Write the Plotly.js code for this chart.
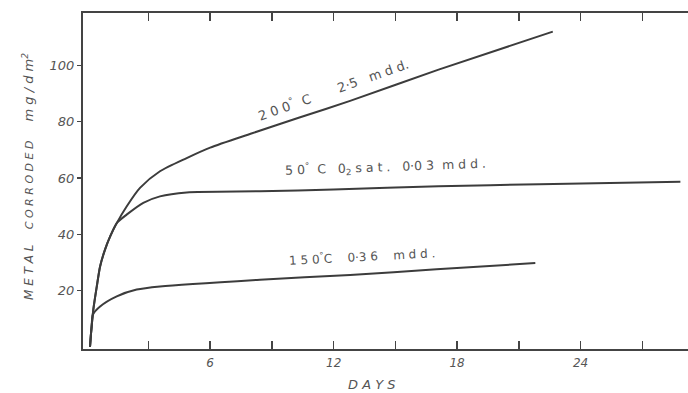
<!DOCTYPE html>
<html>
<head>
<meta charset="utf-8">
<script src="https://cdn.plot.ly/plotly-3.0.1.min.js"></script>
<style>
html,body{margin:0;padding:0;background:#fff;}
#chart{width:688px;height:393px;}
</style>
</head>
<body>
<div id="chart"></div>
<script>
// Data (days, mg/dm^2)
const days200 = [0.16, 0.20, 0.24, 0.32, 0.49, 0.65, 0.89, 1.13, 1.46, 1.94, 2.59, 3.56, 4.86, 6.0, 8.0, 10.3, 12.8, 17.1, 22.65];
const vals200 = [0, 4, 7.3, 13.2, 21.5, 28.6, 34.6, 39.1, 44.0, 49.9, 56.5, 62.4, 67.1, 70.8, 75.8, 81.4, 87.4, 98.5, 112];

const days50 = [0.16, 0.20, 0.24, 0.32, 0.49, 0.65, 0.89, 1.13, 1.46, 1.94, 2.75, 3.56, 4.86, 8.42, 12.0, 17.1, 22.0, 28.85];
const vals50 = [0, 4, 7.3, 13.2, 21.5, 28.6, 34.6, 39.1, 44.0, 47.0, 51.2, 53.5, 54.9, 55.3, 55.9, 57.1, 57.8, 58.7];

const days150 = [0.16, 0.20, 0.24, 0.30, 0.65, 1.46, 2.43, 3.56, 8.42, 12.8, 17.0, 21.8];
const vals150 = [0, 4, 7.3, 11.5, 14.4, 18.0, 20.4, 21.5, 23.9, 25.6, 27.6, 29.8];

const xTickVals = [3, 6, 9, 12, 15, 18, 21, 24, 27];
const xTickText = ['', '6', '', '12', '', '18', '', '24', ''];
const yTickVals = [20, 40, 60, 80, 100];
const yTickText = ['20', '40', '60', '80', '100'];

const curveLabels = [
  {text: '2 0 0<sup>°</sup>  C       2·5   m d d.', x: 12.0, y: 91.5, angle: -19.5, size: 13},
  {text: '5 0<sup>°</sup>  C   0<sub>2</sub> s a t .   0·0 3  m d d .', x: 14.5, y: 64.0, angle: -2, size: 12.5},
  {text: '1 5 0<sup>°</sup>C    0·3 6    m d d .', x: 13.4, y: 32.3, angle: -3, size: 12}
];

const lineColor = '#3c3c3c';
const txtColor = '#555';
const fnt = 'DejaVu Sans, sans-serif';

function tr(x, y) {
  return {x: x, y: y, type: 'scatter', mode: 'lines',
    line: {color: lineColor, width: 2, shape: 'spline', smoothing: 0.7},
    hoverinfo: 'skip', showlegend: false};
}

const data = [tr(days200, vals200), tr(days50, vals50), tr(days150, vals150)];

const annotations = curveLabels.map(l => ({
  text: l.text, x: l.x, y: l.y, xref: 'x', yref: 'y', showarrow: false,
  xanchor: 'center', yanchor: 'middle',
  textangle: l.angle, font: {family: fnt, size: l.size, color: txtColor}
}));
annotations.push({
  text: 'M E T A L    <span style="font-size:11px">C O R R O D E D</span>     <span style="font-size:13px">m g / d m<sup>2</sup></span>',
  xref: 'paper', yref: 'paper', x: -0.091, y: 0.515, showarrow: false,
  xanchor: 'center', yanchor: 'middle',
  textangle: -90, font: {family: fnt, size: 12, color: txtColor, style: 'italic'}
});
annotations.push({
  text: 'D A Y S', xref: 'x', yref: 'paper', x: 13.86, y: -0.106,
  xanchor: 'center', yanchor: 'middle',
  showarrow: false, font: {family: fnt, size: 13, color: txtColor, style: 'italic'}
});

const layout = {
  width: 688, height: 393,
  margin: {l: 83, r: 0, t: 13, b: 44},
  paper_bgcolor: '#fff', plot_bgcolor: '#fff',
  showlegend: false,
  font: {family: fnt, color: txtColor, size: 12},
  xaxis: {
    range: [-0.18, 29.22], showgrid: false, zeroline: false,
    showline: true, linecolor: '#444', linewidth: 2, mirror: 'ticks',
    ticks: 'inside', ticklen: 8, tickwidth: 1.5, tickcolor: '#444',
    tickvals: xTickVals, ticktext: xTickText,
    tickfont: {family: fnt, size: 12, color: txtColor, style: 'italic'}, ticklabelstandoff: 2
  },
  yaxis: {
    range: [-0.7, 118.6], showgrid: false, zeroline: false,
    showline: true, linecolor: '#444', linewidth: 2,
    ticks: 'outside', ticklen: 4, tickwidth: 1.2, tickcolor: '#444',
    tickvals: yTickVals, ticktext: yTickText,
    tickfont: {family: fnt, size: 13, color: txtColor, style: 'italic'}
  },
  annotations: annotations
};

Plotly.newPlot('chart', data, layout, {staticPlot: true, displayModeBar: false});
</script>
</body>
</html>
